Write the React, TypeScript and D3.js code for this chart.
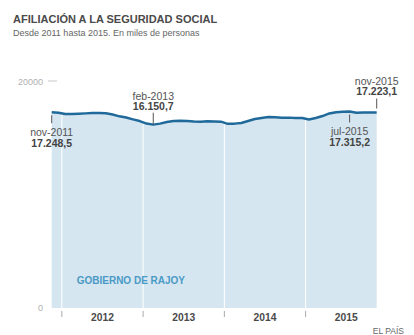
import React from "react";
import * as d3 from "d3";

// Monthly affiliation, nov-2011 .. nov-2015 (thousands of persons)
const months: string[] = d3
  .timeMonth.range(new Date(2011, 10, 1), new Date(2015, 11, 1))
  .map((d) => d3.timeFormat("%Y-%m")(d));

const values: number[] = [
  17248.5, 17200, 17090, 17090, 17115, 17150, 17180, 17180, 17155, 17050, 16890, 16785,
  16625, 16475, 16255, 16150.7, 16250, 16390, 16475, 16500, 16475, 16430, 16415, 16450,
  16430, 16415, 16230, 16240, 16300, 16475, 16650, 16740, 16828, 16800, 16760, 16770,
  16740, 16740, 16610, 16740, 16916, 17137, 17250, 17290, 17315.2, 17200, 17220, 17230,
  17223.1,
];

const years: string[] = ["2012", "2013", "2014", "2015"];
const yTicks: number[] = [0, 20000];

const annIndex: number[] = [0, 15, 44, 48];
const annLabel: string[] = ["nov-2011", "feb-2013", "jul-2015", "nov-2015"];
const annSide: string[] = ["below", "above", "below", "above"];

const title = "AFILIACIÓN A LA SEGURIDAD SOCIAL";
const subtitle = "Desde 2011 hasta 2015. En miles de personas";
const bandLabel = "GOBIERNO DE RAJOY";
const source = "EL PAÍS";

const esLocale = d3.formatLocale({
  decimal: ",",
  thousands: ".",
  grouping: [3],
  currency: ["", "€"],
});
const fmt = esLocale.format(",.1f");

const FONT = "'Liberation Sans', Arial, sans-serif";

export default function App() {
  const x = d3.scaleLinear().domain([0, months.length - 1]).range([51.7, 376.7]);
  const y = d3.scaleLinear().domain([0, 20000]).range([308, 81]);

  const area = d3
    .area<number>()
    .x((_, i) => x(i))
    .y0(y(0))
    .y1((d) => y(d));
  const line = d3
    .line<number>()
    .x((_, i) => x(i))
    .y((d) => y(d));

  const boundaries = years.map((_, k) => 1.5 + 12 * k);
  const centers = years.map((_, k) => 7.5 + 12 * k);

  return (
    <svg
      width={414}
      height={335}
      style={{ position: "absolute", left: 0, top: 0, background: "#fff" }}
      fontFamily={FONT}
    >
      <text x={13} y={23} fontSize={11} fontWeight="bold" fill="#4a4a4a">
        {title}
      </text>
      <text x={13} y={35.5} fontSize={9} fill="#666">
        {subtitle}
      </text>

      {/* y axis */}
      {yTicks.map((t) => (
        <text
          key={t}
          x={43}
          y={y(t) + (t === 0 ? 3 : 3.5)}
          textAnchor="end"
          fontSize={9}
          fill="#b0b0b0"
        >
          {t}
        </text>
      ))}
      <line x1={48} x2={57} y1={y(20000)} y2={y(20000)} stroke="#c8c8c8" strokeWidth={1} />

      {/* area */}
      <path d={area(values) || ""} fill="#d6e6f0" />
      {boundaries.map((b, k) => (
        <line key={k} x1={x(b)} x2={x(b)} y1={y(values[Math.round(b)])} y2={y(0)} stroke="#fff" strokeWidth={1} />
      ))}
      {boundaries.map((b, k) => (
        <line key={"t" + k} x1={x(b)} x2={x(b)} y1={y(0) + 3} y2={y(0) + 9} stroke="#aaa" strokeWidth={1} />
      ))}
      <path d={line(values) || ""} fill="none" stroke="#1f6a9a" strokeWidth={2.4} strokeLinejoin="round" />

      <text x={76.7} y={283.5} fontSize={10} fontWeight="bold" fill="#4a9ac6">
        {bandLabel}
      </text>

      {years.map((yr, k) => (
        <text
          key={yr}
          x={x(centers[k])}
          y={320.5}
          textAnchor="middle"
          fontSize={10.3}
          fontWeight="bold"
          fill="#4a4a4a"
        >
          {yr}
        </text>
      ))}

      {/* annotations */}
      {annIndex.map((idx, k) => {
        const px = x(idx);
        const py = y(values[idx]);
        const below = annSide[k] === "below";
        const tickLen = annLabel[k] === "nov-2015" ? 14 : below ? 11 : 12;
        const y1 = below ? py + 3 : py - tickLen;
        const y2 = below ? py + tickLen : py - (annLabel[k] === "nov-2015" ? 4 : 0);
        const ty = below ? y2 + 13 : y1 - (annLabel[k] === "nov-2015" ? 14 : 13);
        return (
          <g key={k}>
            <line x1={px} x2={px} y1={y1} y2={y2} stroke="#555" strokeWidth={1} />
            <text x={px} y={ty} textAnchor="middle" fontSize={10.5} fill="#555">
              {annLabel[k]}
            </text>
            <text x={px} y={ty + 10.8} textAnchor="middle" fontSize={10.5} fontWeight="bold" fill="#444">
              {fmt(values[idx])}
            </text>
          </g>
        );
      })}

      <text x={404} y={333.5} textAnchor="end" fontSize={8.5} fill="#666">
        {source}
      </text>
    </svg>
  );
}
